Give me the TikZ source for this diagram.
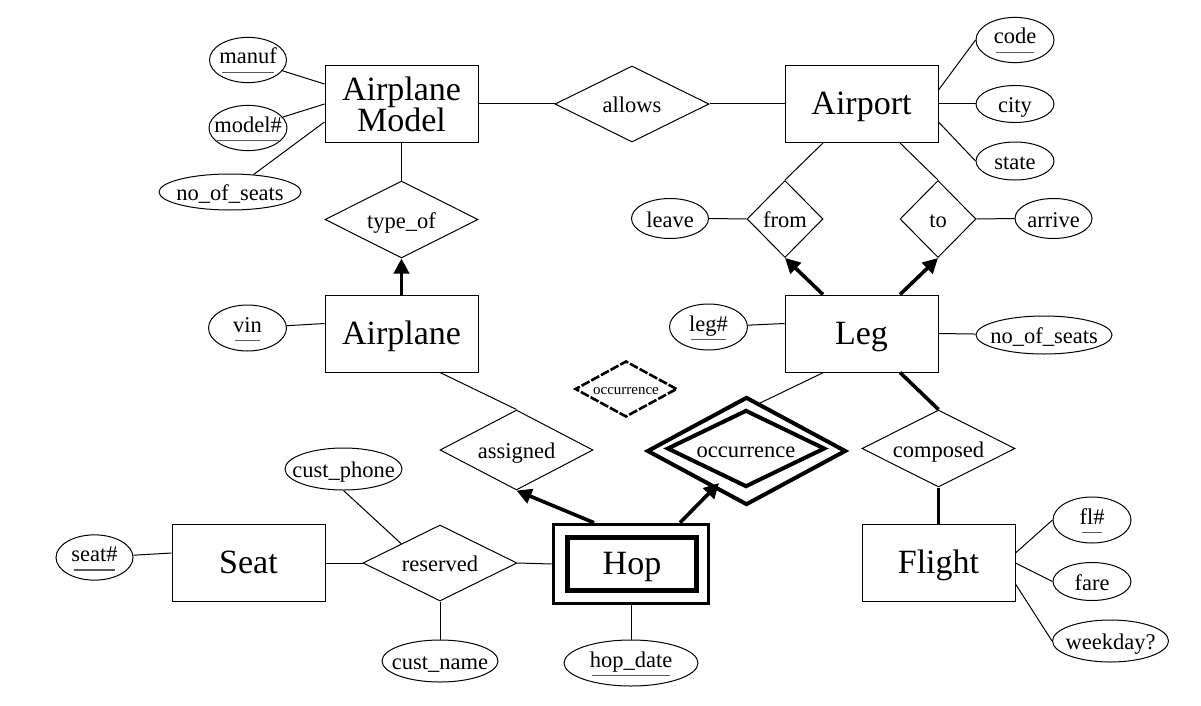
\documentclass[tikz,border=0pt]{standalone}
\usepackage{fontspec}
\setmainfont{Liberation Serif}
\usetikzlibrary{shapes.geometric,arrows.meta,calc}
\newcommand\zb[1]{\makebox[0pt]{#1}}
\newcommand\keyat[1]{\setbox0\hbox{#1}\makebox[0pt]{\rlap{\kern0.1em\smash{\color{black!65}\rule[-0.42em]{\dimexpr\wd0-0.2em\relax}{0.07em}}}\box0}}
\begin{document}
\begin{tikzpicture}[x=1pt,y=-1pt,
  ent/.style={draw, line width=1pt, minimum width=153pt, minimum height=77pt, inner sep=0pt, font=\fontsize{34}{29}\selectfont, align=center},
  ent1/.style={ent, text height=21pt, text depth=0pt},
  rel/.style={draw, diamond, fill=white, inner sep=0pt, line width=1pt, font=\fontsize{22.5}{26}\selectfont, text height=17pt, text depth=0pt},
  att/.style={draw, ellipse, inner sep=0pt, line width=1pt, font=\fontsize{22.5}{26}\selectfont, text height=17pt, text depth=0pt},
  key/.style={att, text height=20pt, text depth=12pt},
  ln/.style={line width=1pt},
  thk/.style={line width=3.6pt},
  tharr/.style={line width=3.6pt, -{Triangle[length=15pt,width=15pt]}}]
\useasboundingbox (0,0) rectangle (1201,706);
% entities
\node[ent] (am) at (401.5,104) {Airplane\\[-1pt]Model};
\node[ent1] (ap) at (861.5,104) {Airport};
\node[ent1] (pl) at (401.5,333.5) {Airplane};
\node[ent1] (leg) at (861.5,333.5) {Leg};
\node[ent1] (seat) at (248.5,563) {Seat};
\node[ent1] (fl) at (938.5,563) {Flight};
% relationships
\node[rel, minimum width=154pt, minimum height=76pt] (allows) at (632,104) {\zb{allows}};
\node[rel, minimum width=153pt, minimum height=77pt] (typeof) at (401.5,219.5) {\zb{type\_of}};
\node[rel, minimum width=76pt, minimum height=77pt] (from) at (785,219) {\zb{from}};
\node[rel, minimum width=76pt, minimum height=77pt] (to) at (938,219) {\zb{to}};
\node[rel, minimum width=153pt, minimum height=80pt] (assigned) at (516.5,450) {\zb{assigned}};
\node[rel, minimum width=153pt, minimum height=77pt] (composed) at (938.5,448.5) {\zb{composed}};
\node[rel, minimum width=154pt, minimum height=76pt] (reserved) at (440,563) {\zb{reserved}};
\node[rel, dash pattern=on 9pt off 2pt, line width=2.6pt, minimum width=102pt, minimum height=56pt, font=\fontsize{15}{17}\selectfont, text height=11pt] (occS) at (626,389) {\zb{occurrence}};
% attributes
\node[key, minimum width=77pt, minimum height=40pt] (manuf) at (248,60) {\zb{\keyat{manuf}}};
\node[key, minimum width=78pt, minimum height=40pt] (model) at (248,128) {\zb{\keyat{model\#}}};
\node[att, minimum width=142pt, minimum height=36pt] (nos1) at (230,192) {\zb{no\_of\_seats}};
\node[key, minimum width=78pt, minimum height=44pt] (code) at (1015,40) {\zb{\keyat{code}}};
\node[att, minimum width=78pt, minimum height=37pt] (city) at (1015,104) {\zb{city}};
\node[att, minimum width=78pt, minimum height=38pt] (state) at (1015,161) {\zb{state}};
\node[att, minimum width=77pt, minimum height=40pt] (leave) at (670,218.5) {\zb{leave}};
\node[att, minimum width=77pt, minimum height=40pt] (arrive) at (1053.5,218.5) {\zb{arrive}};
\node[key, minimum width=78pt, minimum height=46pt] (vin) at (247.5,328) {\zb{\keyat{vin}}};
\node[key, minimum width=78pt, minimum height=46pt] (legno) at (708.5,327) {\zb{\keyat{leg\#}}};
\node[att, minimum width=136pt, minimum height=38pt] (nos2) at (1044,335) {\zb{no\_of\_seats}};
\node[att, minimum width=117pt, minimum height=42pt] (cphone) at (343.5,469) {\zb{cust\_phone}};
\node[att, minimum width=116pt, minimum height=42pt] (cname) at (440,661) {\zb{cust\_name}};
\node[key, minimum width=77pt, minimum height=44pt] (seatno) at (94.5,557.5) {\zb{\keyat{seat\#}}};
\node[key, minimum width=134pt, minimum height=46pt] (hopdate) at (631,663) {\zb{\keyat{hop\_date}}};
\node[key, minimum width=78pt, minimum height=46pt] (flno) at (1092,520) {\zb{\keyat{fl\#}}};
\node[att, minimum width=78pt, minimum height=38pt] (fare) at (1092,581.5) {\zb{fare}};
\node[att, minimum width=116pt, minimum height=42pt] (wk) at (1110.5,641) {\zb{weekday?}};
% weak relationship and weak entity
\node[diamond, inner sep=0pt, minimum width=158pt, minimum height=77pt] (occI0) at (746,448.5) {};
\draw[ln] ([xshift=-38pt]leg.south) -- (occI0.north);
\node[draw, diamond, fill=white, line width=4pt, inner sep=0pt, minimum width=199pt, minimum height=108pt] (occO) at (746.5,451) {};
\node[draw, diamond, line width=4pt, inner sep=0pt, minimum width=158pt, minimum height=77pt, font=\fontsize{22.5}{26}\selectfont, text height=17pt, text depth=0pt] (occI) at (746,448.5) {\zb{occurrence}};
\node[draw, line width=3.6pt, minimum width=155pt, minimum height=79pt, inner sep=0pt] (hop) at (631,564) {};
\node[draw, line width=5pt, minimum width=129pt, minimum height=53pt, inner sep=0pt, font=\fontsize{34}{29}\selectfont, text height=21pt, text depth=0pt] (hopI) at (632,563.5) {Hop};
\coordinate (occtip) at (719,483);
% connectors
\draw[ln] (manuf) -- ([yshift=20pt]am.west);
\draw[ln] (model) -- (am.west);
\draw[ln] (nos1) -- ([yshift=-18pt]am.west);
\draw[ln] (am.east) -- (allows.west);
\draw[ln] (allows.east) -- (ap.west);
\draw[ln] (am.south) -- (typeof.north);
\draw[tharr] (pl.north) -- (typeof.south);
\draw[ln] ([xshift=-38.5pt]ap.south) -- (from.north);
\draw[ln] ([xshift=38.5pt]ap.south) -- (to.north);
\draw[ln] ([yshift=14pt]ap.east) -- (code.west);
\draw[ln] (ap.east) -- (city.west);
\draw[ln] ([yshift=-18pt]ap.east) -- (state.west);
\draw[ln] (leave.east) -- (from.west);
\draw[ln] (to.east) -- (arrive.west);
\draw[tharr] ([xshift=-38.5pt]leg.north) -- (from.south);
\draw[tharr] ([xshift=38.5pt]leg.north) -- (to.south);
\draw[ln] (vin) -- ([yshift=10pt]pl.west);
\draw[ln] (legno) -- ([yshift=10pt]leg.west);
\draw[ln] (leg.east) -- (nos2);
\draw[ln] ([xshift=38.5pt]pl.south) -- (assigned.north);
\draw[tharr] ([xshift=-37pt]hop.north) -- (assigned.south);
\draw[tharr] ([xshift=49pt]hop.north) -- (occtip);
\draw[ln] (seat.east) -- (reserved.west);
\draw[ln] (reserved.east) -- (hop.west);
\draw[ln] (cphone.south) -- ($(reserved.west)!0.5!(reserved.north)$);
\draw[ln] (reserved.south) -- (cname.north);
\draw[ln] (seatno) -- ([yshift=10pt]seat.west);
\draw[ln] (hop.south) -- (hopdate.north);
\draw[thk] ([xshift=38.5pt]leg.south) -- (composed.north);
\draw[thk] (composed.south) -- (fl.north);
\draw[ln] ([yshift=10pt]fl.east) -- (flno.west);
\draw[ln] (fl.east) -- (fare.west);
\draw[ln] ([yshift=-21pt]fl.east) -- (wk.west);
\end{tikzpicture}
\end{document}
